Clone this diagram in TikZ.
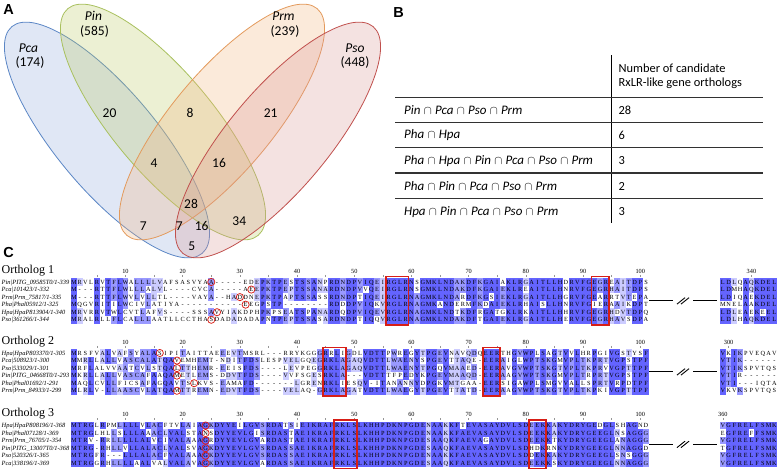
\documentclass[tikz,border=0pt]{standalone}
\usepackage{fontspec}
\setmainfont{Liberation Serif}
\newfontfamily\calib{Carlito}
\newfontfamily\hdfont{Liberation Sans}
\definecolor{pcaF}{HTML}{8FAADC}
\definecolor{pcaD}{HTML}{5B86C5}
\definecolor{pinF}{HTML}{B9C860}
\definecolor{pinD}{HTML}{A9C05E}
\definecolor{prmF}{HTML}{F2B27A}
\definecolor{prmD}{HTML}{E39A5C}
\definecolor{psoF}{HTML}{D99694}
\definecolor{psoD}{HTML}{C0504D}
\definecolor{alnc1}{RGB}{204,204,255}
\definecolor{alnc2}{RGB}{153,153,255}
\definecolor{alnc3}{RGB}{100,100,255}
\definecolor{redM}{RGB}{215,30,22}
\definecolor{ruleC}{RGB}{50,50,50}
\definecolor{tickC}{RGB}{150,150,150}

\newcommand\alncell[4]{%
  \ifnum#3>0 \fill[alnc#3] ({#1-2.94},{#2-3.85}) rectangle ({#1+2.94},{#2+3.85});\fi
  \node[res] at (#1,{#2+2.2}) {#4};}

\ExplSyntaxOn
\seq_new:N \l_aln_rows_seq
\int_new:N \l_aln_cnt_int
\int_new:N \l_aln_len_int
\int_new:N \l_aln_r_int
\int_new:N \l_aln_shade_int
\str_new:N \l_aln_ch_str
\str_new:N \l_aln_first_str
\cs_new_protected:Npn \alnblock #1#2#3
  {
    \seq_set_from_clist:Nn \l_aln_rows_seq {#3}
    \str_set:Nx \l_aln_first_str { \seq_item:Nn \l_aln_rows_seq {1} }
    \int_set:Nn \l_aln_len_int { \str_count:N \l_aln_first_str }
    \int_step_inline:nn { \l_aln_len_int }
      {
        \int_zero:N \l_aln_r_int
        \seq_map_inline:Nn \l_aln_rows_seq
          {
            \int_incr:N \l_aln_r_int
            \str_set:Nx \l_aln_ch_str { \str_item:nn {####1} {##1} }
            \int_zero:N \l_aln_cnt_int
            \seq_map_inline:Nn \l_aln_rows_seq
              {
                \str_if_eq:eeT { \str_item:nn {########1} {##1} } { \l_aln_ch_str }
                  { \int_incr:N \l_aln_cnt_int }
              }
            \str_if_eq:VnTF \l_aln_ch_str { - }
              { \int_set:Nn \l_aln_shade_int {0} }
              {
                \int_compare:nNnTF \l_aln_cnt_int > 4
                  { \int_set:Nn \l_aln_shade_int {3} }
                  {
                    \int_compare:nNnTF \l_aln_cnt_int = 4
                      { \int_set:Nn \l_aln_shade_int {2} }
                      {
                        \int_compare:nNnTF \l_aln_cnt_int = 3
                          { \int_set:Nn \l_aln_shade_int {1} }
                          { \int_set:Nn \l_aln_shade_int {0} }
                      }
                  }
              }
            \use:x
              {
                \exp_not:N \alncell
                  { \fp_eval:n { #1 + (##1 - 1) * 5.72 } }
                  { \fp_eval:n { #2 + (\l_aln_r_int - 1) * 7.55 } }
                  { \int_use:N \l_aln_shade_int }
                  { \l_aln_ch_str }
              }
          }
      }
  }
\ExplSyntaxOff

% ruler: #1 y0 (first row centre), #2 first index of right block, #3 right label
\newcommand\alnRuler[3]{%
  \foreach \c in {5,10,...,100}
    \draw[tickl] ({74+(\c-1)*5.72},{#1-7.2}) -- ({74+(\c-1)*5.72},{#1-5.2});
  \foreach \c in {10,20,...,100}
    \node[rulnum] at ({74+(\c-1)*5.72},{#1-8.6}) {\c};
  \node[rulnum] at ({722.86+(#3-#2)*5.72},{#1-8.6}) {#3};
  \draw[tickl] ({722.86+(#3-#2)*5.72},{#1-7.2}) -- ({722.86+(#3-#2)*5.72},{#1-5.2});}
\newcommand\alnBox[3]{%
  \draw[redbox] ({74+(#2-1)*5.72-2.86},{#1-5.4}) rectangle ({74+(#3-1)*5.72+2.86},{#1+5*7.55+5.4});}
\newcommand\alnCirc[3]{%
  \draw[redcirc] ({74+(#2-1)*5.72},{#1+(#3-1)*7.55}) circle[radius=3.6];}
\newcommand\alnBreak[1]{%
  \draw[brkline] (649,{#1+2.5*7.55}) -- (673,{#1+2.5*7.55});
  \draw[brkline] (677,{#1+2.5*7.55+3.2}) -- (685,{#1+2.5*7.55-3.2});
  \draw[brkline] (681,{#1+2.5*7.55+3.2}) -- (689,{#1+2.5*7.55-3.2});
  \draw[brkline] (693,{#1+2.5*7.55}) -- (717,{#1+2.5*7.55});}
\newcommand\capx{\hspace{0.25em}$\cap$\hspace{0.25em}}

\begin{document}
\begin{tikzpicture}[x=1pt,y=-1pt,
  venn/.style={fill opacity=0.28, draw opacity=1, line width=0.8pt},
  vlab/.style={font=\calib\fontsize{13.5}{14.5}\selectfont, inner sep=0},
  panel/.style={font=\hdfont\bfseries\fontsize{14.5}{15}\selectfont, inner sep=0},
  tabh/.style={font=\calib\fontsize{12.4}{13}\selectfont, anchor=west, inner sep=0},
  tab/.style={font=\calib\fontsize{13}{14}\selectfont, anchor=west, inner sep=0},
  res/.style={font=\fontsize{6.3}{6.3}\selectfont, inner sep=0, anchor=base},
  rname/.style={font=\itshape\fontsize{6.4}{6.4}\selectfont, inner sep=0, anchor=base west},
  rulnum/.style={font=\fontsize{6.3}{6.3}\selectfont, inner sep=0, anchor=base},
  otitle/.style={font=\fontsize{12}{12}\selectfont, inner sep=0, anchor=base west},
  tickl/.style={draw=tickC, line width=0.4pt},
  redbox/.style={draw=redM, line width=1.6pt},
  redcirc/.style={draw=redM, line width=0.75pt},
  brkline/.style={draw=black, line width=0.9pt},
  trule/.style={draw=ruleC, line width=1.2pt}]
\useasboundingbox (0,0) rectangle (778,471);

% ---------------- Panel A: Venn ----------------
\filldraw[venn, fill=pcaF, draw=pcaD, rotate around={-50:(107,140)}] (107,140) ellipse [x radius=148, y radius=50];
\filldraw[venn, fill=pinF, draw=pinD, rotate around={-50:(163,122)}] (163,122) ellipse [x radius=148, y radius=50];
\filldraw[venn, fill=prmF, draw=prmD, rotate around={50:(222,122)}] (222,122) ellipse [x radius=148, y radius=50];
\filldraw[venn, fill=psoF, draw=psoD, rotate around={50:(278,140)}] (278,140) ellipse [x radius=148, y radius=50];

\node[panel] (pA) at (8.5,10) {A};
\node[vlab] (lpca) at (28.5,48.5) {\textit{Pca}};
\node[vlab] (npca) at (30,62.7) {(174)};
\node[vlab] (lpin) at (93.5,16) {\textit{Pin}};
\node[vlab] (npin) at (94.5,31.7) {(585)};
\node[vlab] (lprm) at (283.5,16) {\textit{Prm}};
\node[vlab] (nprm) at (285,31.7) {(239)};
\node[vlab] (lpso) at (355,48.5) {\textit{Pso}};
\node[vlab] (npso) at (355,62.7) {(448)};
\node[vlab] (v20) at (109.5,113.3) {20};
\node[vlab] (v8) at (190,113.3) {8};
\node[vlab] (v21) at (270.7,113.3) {21};
\node[vlab] (v4) at (154,163.3) {4};
\node[vlab] (v16a) at (219,163.3) {16};
\node[vlab] (v28) at (191,204) {28};
\node[vlab] (v7a) at (143.3,226) {7};
\node[vlab] (v7b) at (179.3,226) {7};
\node[vlab] (v16b) at (201.7,226) {16};
\node[vlab] (v34) at (239.3,220.7) {34};
\node[vlab] (v5) at (191.7,246) {5};

% ---------------- Panel B: table ----------------
\node[panel] (pB) at (398.5,13) {B};
\draw[line width=0.8pt] (611.7,55) -- (611.7,223.3);
\foreach \yy in {97.3,122.7,147.7,173,198.7} \draw[trule] (395,\yy) -- (763,\yy);
\node[tabh] (th1) at (618.5,68.5) {Number of candidate};
\node[tabh] (th2) at (618.5,83.3) {RxLR-like gene orthologs};
\node[tab] (r1) at (404,110) {\textit{Pin}\capx\textit{Pca}\capx\textit{Pso}\capx\textit{Prm}};
\node[tabh] (c1) at (618.5,110) {28};
\node[tab] (r2) at (404,135.5) {\textit{Pha}\capx\textit{Hpa}};
\node[tabh] (c2) at (618.5,135.5) {6};
\node[tab] (r3) at (404,161) {\textit{Pha}\capx\textit{Hpa}\capx\textit{Pin}\capx\textit{Pca}\capx\textit{Pso}\capx\textit{Prm}};
\node[tabh] (c3) at (618.5,161) {3};
\node[tab] (r4) at (404,186.3) {\textit{Pha}\capx\textit{Pin}\capx\textit{Pca}\capx\textit{Pso}\capx\textit{Prm}};
\node[tabh] (c4) at (618.5,186.3) {2};
\node[tab] (r5) at (404,211.8) {\textit{Hpa}\capx\textit{Pin}\capx\textit{Pca}\capx\textit{Pso}\capx\textit{Prm}};
\node[tabh] (c5) at (618.5,211.8) {3};

% ---------------- Panel C: alignments ----------------
\node[panel] (pC) at (8.5,252.5) {C};

% Ortholog 1 (y0 = 282)
\node[otitle] (o1t) at (1.5,273.5) {Ortholog 1};
\alnRuler{282}{335}{340}
\node[rname] (o1n1) at (1.5,284.2) {Pin|PITG\_09585T0/1-339};
\node[rname] (o1n2) at (1.5,291.75) {Pca|101423/1-332};
\node[rname] (o1n3) at (1.5,299.3) {Prm|Prm\_75817/1-335};
\node[rname] (o1n4) at (1.5,306.85) {Pha|Phal05912/1-325};
\node[rname] (o1n5) at (1.5,314.4) {Hpa|HpaP813904/1-340};
\node[rname] (o1n6) at (1.5,321.95) {Pso|361266/1-344};
\alnblock{74}{282}{%
MRVLRVTFLWALLLLVAFSASVYAA-----EDEPKTPESTSSANPRDNDPVIQEIRGLRNSGMKLNDAKDFKGAIAKLRGAITLLHDRVFGEGREAITDPS,
M---RTTFLWLLLALVL----CVCA-----AEEPKTPEPTSSANARDNDPVVQEIRGLRNSGMKLNDAKDFKGAIEKLREAITLLHNRVFGEGRHAITDPS,
M---RTTFLWVLVLLTL----VAYA--HADDNEPKTPAPTSSASSRDNDPTIQEIRGLRNAGMKLNDARDFKGSIEKLRGAITLLHGRVFGEARRTVTEPA,
MQGVRITILWCIVLATIYA-----------EEGPSTP--------RDDDPVIQKVRGLRNAGMKANDERMFKDAIEKLRHAISLLHNRVFGIERAAIKDPT,
MRVRRVTWLCVTLAFVS----SSSAVYIAKDPHPKPSEATSPANARDQDPVIQEVRGLRNAGMKLNDTKDFRGATGKLRKAITLLHHRVFGEGRHDVTDPQ,
MRALRLLFLCALLLAATLLCCTHASDADADADAPNTPEPTSSASARDNDPTIQQVRGLRNAGMKLNDAKDFTGAIEKLRGAITLLHERVFGEGRHAVSDPA}
\alnblock{722.86}{282}{LDLQAQKDEL,LDMHAQKDEL,LDIQAEKDEL,MNELAAKDEL,LDLEAEKEEL,LDLHAQKDEL}
\alnBox{282}{56}{59}
\alnBox{282}{92}{94}
\alnCirc{282}{25}{1}
\alnCirc{282}{32}{2}
\alnCirc{282}{30}{3}
\alnCirc{282}{31}{4}
\alnCirc{282}{26}{5}
\alnCirc{282}{25}{6}
\alnBreak{282}

% Ortholog 2 (y0 = 353)
\node[otitle] (o2t) at (1.5,344.5) {Ortholog 2};
\alnRuler{353}{299}{300}
\node[rname] (o2n1) at (1.5,355.2) {Hpa|HpaP803370/1-305};
\node[rname] (o2n2) at (1.5,362.75) {Pca|508923/1-300};
\node[rname] (o2n3) at (1.5,370.3) {Pso|533029/1-301};
\node[rname] (o2n4) at (1.5,377.85) {Pin|PITG\_04668T0/1-293};
\node[rname] (o2n5) at (1.5,385.4) {Pha|Phal01692/1-291};
\node[rname] (o2n6) at (1.5,392.95) {Prm|Prm\_84933/1-299};
\alnblock{74}{353}{%
MRSFVALVAFSYALASIPITAITTAEEEVTMSRL---RRYKGGGRRLIGDLVDTTPWREGYTPGEVNAVQDQEERTHGVWPLSAGTVVLHRPGIVGSTYSF,
MMRLLALLVASCALATQAVEMHEMT-NDITFDSLESPVELGQEGRKLAGAQVDTTLWAENYSPGEVTTAQE-EERAIGLWPTSKGMVPLTKPRTVGPSTPF,
MRFLALVVAATCVLSTQALTTHEMR-EEISFDS----LEVPEGGRKLAGAQVDTTLWAENYTPGQVMAAED-EERAVGVWPTSKGTVPLTKPRVVGPTTPF,
MKRLLALLVASCAFAAQAMETLEMS-DDVTFDS----VVFSGESRKLA---VDTTTFPEDYKPGEVMAAQD-EERAAGVWPTSKGMVPLTRPRTVGPSTPF,
MAQLCVLLFICSAFAGQAVTSLKVS-EAMAFD-------LGRENRKLIESQV-ITANANNYDPGKVMTGAA-EERSIGAWPLSMGVVALLSPRTVRPDTPF,
MLRLV-LLAASCVLATQAMTTREMN-EDVTFDS----VELAQ-GRKLAGATVDTTLWAEGYTPGEVTTATD-EERAAGVWPTSKGTVPLTKPKIVGPTTPF}
\alnblock{722.86}{353}{VKIKPVEQAV,VTIK------,VTIKSPVTQS,VTIR------,VTI---IQTA,VKVKSPVTQS}
\alnBox{353}{45}{48}
\alnBox{353}{73}{75}
\alnCirc{353}{16}{1}
\alnCirc{353}{19}{2}
\alnCirc{353}{19}{3}
\alnCirc{353}{19}{4}
\alnCirc{353}{22}{5}
\alnCirc{353}{19}{6}
\alnBreak{353}

% Ortholog 3 (y0 = 425.5)
\node[otitle] (o3t) at (1.5,416.5) {Ortholog 3};
\alnRuler{425.5}{360}{360}
\node[rname] (o3n1) at (1.5,427.7) {Hpa|HpaP808196/1-368};
\node[rname] (o3n2) at (1.5,435.25) {Pha|Phal07128/1-369};
\node[rname] (o3n3) at (1.5,442.8) {Prm|Prm\_76705/1-354};
\node[rname] (o3n4) at (1.5,450.35) {Pin|PITG\_13007T0/1-368};
\node[rname] (o3n5) at (1.5,457.9) {Pso|520326/1-365};
\node[rname] (o3n6) at (1.5,465.45) {Pca|338196/1-369};
\alnblock{74}{425.5}{%
MTRGLRPMLLLLVLACFTVLAIAGKDYYEILGVSRDATSIEIKRAFRKLSLKHHPDKNPGDENAAKKFTEVASAYDVLSDEEKKAKYDRYGEDGLSHAGND,
MTRGLHLLSLLLAAACLVALSTANSDYYEVLGISRDASTAEIKRAFRKLSLKHHPDKNPGDENAAKKFAEVASAYDVLSDEEKKAKYDRYGEEGLNSAGGG,
MTRV-RRLLLLLALVCIVALAAAGRDYYEVLGVARDASTAEIKRAFRKLSLKHHPDKNPGDESAAQKFAEVAGAYDVLSDEEKKTKYDRYGEEGLANAGGG,
MTRG-RHLLVLLALACLVALSVAGKDYYEVLGVSRDASSAEIKRAFRKLSLKHHPDKNPGDESAAQKFAEVASAYDVLSDHDKRNKYDRYGEEGLNNAGGD,
MTRGFR---LLLALACFVALAAAGKDYYEVLGVSRDASSAEIKRAFRKLSLKHHPDKNPGDENAAKKFAEVASAYDVLSDDEKKAKYDRYGEEGLSNSGGG,
MTRGGRHLLLLAALVALVALAVAGKDYYEVLGVARDASSAEIKRAFRKLSLKHHPDKNPGDESAAQKFAEVASAYDVLSDEEKKSKYDRYGEEGLNNAGGG}
\alnblock{722.86}{425.5}{VGFRELFSMK,EGFREFFSMK,VGFRELFSMK,TGFRELFSMK,VGFRELFSMK,VGFRELFSMK}
\alnBox{425.5}{47}{50}
\alnBox{425.5}{81}{83}
\foreach \r in {1,...,6} {\alnCirc{425.5}{24}{\r}}
\alnBreak{425.5}
\end{tikzpicture}
\end{document}
